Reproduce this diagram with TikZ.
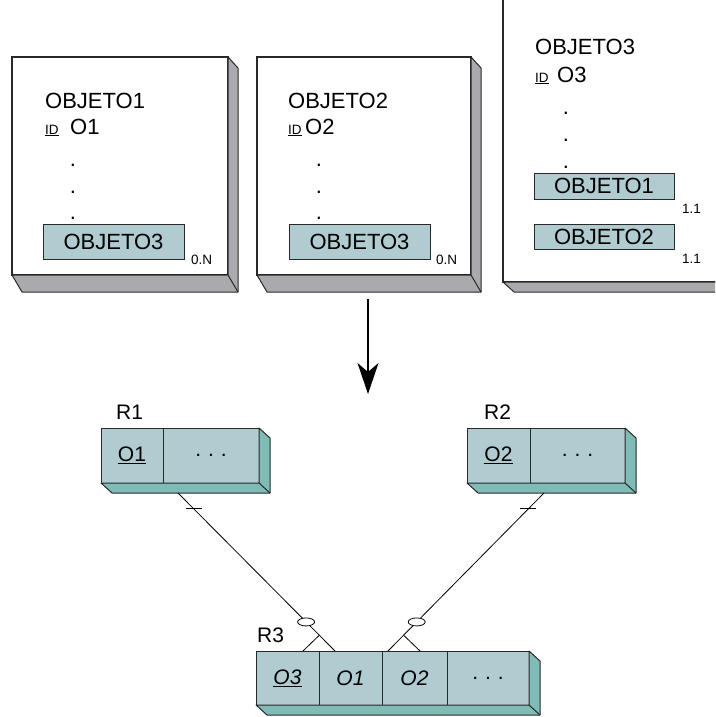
\documentclass[tikz,border=0pt]{standalone}
\usepackage{fontspec}
\setmainfont{Liberation Sans}
\usetikzlibrary{shapes.geometric, arrows.meta, positioning, calc}
\definecolor{CellBlue}{RGB}{176, 204, 209}
\definecolor{SlabTeal}{RGB}{127, 188, 181}
\definecolor{SlabGray}{RGB}{170, 170, 174}
\definecolor{EdgeGray}{RGB}{40, 40, 40}

\newcommand{\slab}[6]{%
  \filldraw[fill=#6, draw=EdgeGray, line width=1pt, line join=round]
    (#2.north east) -- ++(#3,#4) -- ($(#2.south east)+(#3,#5)$)
    -- ($(#1.south west)+(#3,#5)$) -- (#1.south west) -- (#2.south east) -- cycle;
  \draw[EdgeGray, line width=1pt] (#2.south east) -- ++(#3,#5);
}
\newcommand{\gap}{.\hspace{7pt}.\hspace{7pt}.}

\begin{document}
\begin{tikzpicture}[
        x=1pt, y=-1pt,
        sheet/.style={draw=EdgeGray, line width=1.1pt, fill=white, anchor=north west, inner sep=0pt, outer sep=0pt},
        field/.style={draw=EdgeGray, line width=1pt, fill=CellBlue, anchor=north west, inner sep=0pt, outer sep=0pt, minimum width=141pt, minimum height=35pt, font=\fontsize{22}{26}\selectfont},
        cell/.style={draw=EdgeGray, line width=1pt, fill=CellBlue, inner sep=0pt, outer sep=0pt, minimum height=55pt, font=\fontsize{21}{25}\selectfont},
        heading/.style={anchor=base west, inner sep=0pt, font=\fontsize{22}{26}\selectfont},
        rname/.style={anchor=base west, inner sep=0pt, font=\fontsize{21}{25}\selectfont},
        small/.style={anchor=base west, inner sep=0pt, font=\fontsize{13.5}{16}\selectfont},
        ellip/.style={anchor=base, inner sep=0pt, font=\fontsize{22}{26}\selectfont},
        rel/.style={draw=black, line width=0.8pt},
        ring/.style={ellipse, draw=black, line width=0.8pt, fill=white, minimum width=17pt, minimum height=8pt, inner sep=0pt},
        flow/.style={-{Stealth[length=31pt, width=21pt, inset=9pt]}, line width=1.6pt}
    ]
        \clip (0,0) rectangle (715,717);

        % object sheets
        \node[sheet, minimum width=216pt, minimum height=218pt] (obj1) at (12,57) {};
        \slab{obj1}{obj1}{10}{11}{17}{SlabGray}
        \node[sheet, minimum width=214pt, minimum height=218pt] (obj2) at (257,57) {};
        \slab{obj2}{obj2}{10}{11}{17}{SlabGray}
        \node[sheet, minimum width=230pt, minimum height=292pt] (obj3) at (503,-10) {};
        \slab{obj3}{obj3}{11}{10}{10}{SlabGray}

        \node[heading] (t1) at (45,108) {OBJETO1};
        \node[small] (id1) at (45,134) {\underline{ID}};
        \node[heading] (k1) at (70,134) {O1};
        \node[ellip] (d11) at (73,166) {.};
        \node[ellip] (d12) at (73,193) {.};
        \node[ellip] (d13) at (73,219) {.};
        \node[field] (f13) at (43,224) {OBJETO3};
        \node[small] (c13) at (191,264) {0.N};

        \node[heading] (t2) at (288,108) {OBJETO2};
        \node[small] (id2) at (288,134) {\underline{ID}};
        \node[heading] (k2) at (305,134) {O2};
        \node[ellip] (d21) at (319,166) {.};
        \node[ellip] (d22) at (319,193) {.};
        \node[ellip] (d23) at (319,219) {.};
        \node[field] (f23) at (289,224) {OBJETO3};
        \node[small] (c23) at (436,264) {0.N};

        \node[heading] (t3) at (535,55) {OBJETO3};
        \node[small] (id3) at (535,82) {\underline{ID}};
        \node[heading] (k3) at (557,82) {O3};
        \node[ellip] (d31) at (566,114) {.};
        \node[ellip] (d32) at (566,141) {.};
        \node[ellip] (d33) at (566,168) {.};
        \node[field, minimum width=140pt, minimum height=26pt] (f31) at (534,173) {OBJETO1};
        \node[small] (c31) at (682,213) {1.1};
        \node[field, minimum width=140pt, minimum height=25pt] (f32) at (534,224) {OBJETO2};
        \node[small] (c32) at (682,263) {1.1};

        \coordinate (ahead) at (368,394);
        \draw[flow] ($(obj2.south)+(4,24)$) -- (ahead);

        % relations
        \node[cell, anchor=north west, minimum width=62pt] (r1a) at (101,428) {\underline{O1}};
        \node[cell, right=0pt of r1a, minimum width=96pt] (r1b) {\gap};
        \slab{r1a}{r1b}{11}{10}{10}{SlabTeal}
        \node[rname] (l1) at (116,419) {R1};

        \node[cell, anchor=north west, minimum width=63pt] (r2a) at (467,428) {\underline{O2}};
        \node[cell, right=0pt of r2a, minimum width=95pt] (r2b) {\gap};
        \slab{r2a}{r2b}{11}{10}{10}{SlabTeal}
        \node[rname] (l2) at (484,419) {R2};

        \node[cell, anchor=north west, minimum width=63pt, minimum height=54pt] (r3a) at (256,651) {\underline{\textit{O3}}};
        \node[cell, right=0pt of r3a, minimum width=63pt, minimum height=54pt] (r3b) {\textit{O1}};
        \node[cell, right=0pt of r3b, minimum width=65pt, minimum height=54pt] (r3c) {\textit{O2}};
        \node[cell, right=0pt of r3c, minimum width=82pt, minimum height=54pt] (r3d) {\gap};
        \slab{r3a}{r3d}{11}{10}{10}{SlabTeal}
        \node[rname] (l3) at (257,642) {R3};

        \coordinate (s1) at ($(r1b.south west)+(15,10)$);
        \coordinate (e1) at ($(r3b.north west)+(16,0)$);
        \draw[rel] (s1) -- (e1);
        \draw[rel] ($(s1)!0.9!(e1)$) -- ($(r3a.north east)+(-16,0)$);
        \draw[rel] ($(s1)!0.1!(e1)$) +(-8,0) -- +(8,0);
        \node[ring] (o1) at ($(s1)!0.816!(e1)$) {};

        \coordinate (s2) at ($(r2b.south west)+(14,10)$);
        \coordinate (e2) at ($(r3c.north west)+(6,0)$);
        \draw[rel] (s2) -- (e2);
        \draw[rel] ($(s2)!0.9!(e2)$) -- ($(r3c.north west)+(38,0)$);
        \draw[rel] ($(s2)!0.1!(e2)$) +(-8,0) -- +(8,0);
        \node[ring] (o2) at ($(s2)!0.816!(e2)$) {};
\end{tikzpicture}
\end{document}
